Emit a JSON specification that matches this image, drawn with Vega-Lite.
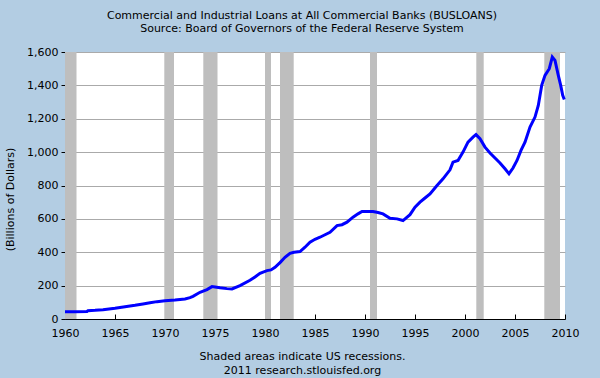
{
  "$schema": "https://vega.github.io/schema/vega-lite/v6.json",
  "width": 500,
  "height": 267,
  "autosize": {"type": "none"},
  "padding": {"left": 65, "top": 52, "right": 35, "bottom": 59},
  "background": "#b3cde3",
  "title": {
    "text": ["Commercial and Industrial Loans at All Commercial Banks (BUSLOANS)", "Source: Board of Governors of the Federal Reserve System"],
    "anchor": "middle",
    "frame": "group",
    "dx": -13,
    "offset": 12,
    "font": "DejaVu Sans",
    "fontSize": 11,
    "fontWeight": "normal",
    "color": "#000000",
    "lineHeight": 13
  },
  "config": {
    "view": {"fill": "#ffffff", "stroke": null},
    "axis": {"labelFont": "DejaVu Sans", "titleFont": "DejaVu Sans", "labelFontSize": 11, "titleFontSize": 11, "labelColor": "#000000", "titleColor": "#000000", "titleFontWeight": "normal", "domainColor": "#000000", "domainWidth": 1, "tickColor": "#000000", "labelFlush": false}
  },
  "datasets": {
    "loans": [
      {"year": 1960.0, "value": 44}, {"year": 1961.0, "value": 44}, {"year": 1962.2, "value": 45}, {"year": 1962.3, "value": 50},
      {"year": 1963.0, "value": 52}, {"year": 1963.8, "value": 56}, {"year": 1965.0, "value": 64}, {"year": 1966.0, "value": 74},
      {"year": 1966.5, "value": 78}, {"year": 1967.0, "value": 82}, {"year": 1967.8, "value": 90}, {"year": 1968.5, "value": 97},
      {"year": 1969.2, "value": 104}, {"year": 1970.0, "value": 110}, {"year": 1971.0, "value": 114}, {"year": 1972.0, "value": 120},
      {"year": 1972.5, "value": 128}, {"year": 1972.8, "value": 136}, {"year": 1973.5, "value": 160}, {"year": 1974.2, "value": 176},
      {"year": 1974.7, "value": 194}, {"year": 1975.0, "value": 192}, {"year": 1975.5, "value": 187}, {"year": 1976.2, "value": 182},
      {"year": 1976.7, "value": 180}, {"year": 1977.5, "value": 200}, {"year": 1978.5, "value": 232}, {"year": 1979.0, "value": 252},
      {"year": 1979.5, "value": 274}, {"year": 1980.2, "value": 290}, {"year": 1980.6, "value": 294}, {"year": 1981.0, "value": 310},
      {"year": 1981.5, "value": 338}, {"year": 1982.0, "value": 370}, {"year": 1982.5, "value": 394}, {"year": 1982.9, "value": 400},
      {"year": 1983.5, "value": 404}, {"year": 1984.0, "value": 430}, {"year": 1984.5, "value": 460}, {"year": 1985.0, "value": 478},
      {"year": 1985.5, "value": 490}, {"year": 1986.0, "value": 505}, {"year": 1986.5, "value": 520}, {"year": 1987.2, "value": 560},
      {"year": 1987.7, "value": 565}, {"year": 1988.2, "value": 580}, {"year": 1988.8, "value": 610}, {"year": 1989.3, "value": 630},
      {"year": 1989.7, "value": 644}, {"year": 1990.3, "value": 644}, {"year": 1990.8, "value": 644}, {"year": 1991.3, "value": 638},
      {"year": 1991.8, "value": 630}, {"year": 1992.5, "value": 604}, {"year": 1993.2, "value": 600}, {"year": 1993.8, "value": 590},
      {"year": 1994.5, "value": 625}, {"year": 1995.0, "value": 670}, {"year": 1995.5, "value": 700}, {"year": 1996.0, "value": 725},
      {"year": 1996.5, "value": 750}, {"year": 1997.2, "value": 800}, {"year": 1997.8, "value": 840}, {"year": 1998.5, "value": 894},
      {"year": 1998.8, "value": 940}, {"year": 1999.3, "value": 950}, {"year": 1999.8, "value": 1000}, {"year": 2000.3, "value": 1060},
      {"year": 2000.8, "value": 1090}, {"year": 2001.1, "value": 1105}, {"year": 2001.5, "value": 1080}, {"year": 2002.0, "value": 1030},
      {"year": 2002.5, "value": 995}, {"year": 2003.0, "value": 965}, {"year": 2003.5, "value": 935}, {"year": 2004.0, "value": 900},
      {"year": 2004.4, "value": 870}, {"year": 2004.8, "value": 905}, {"year": 2005.2, "value": 950}, {"year": 2005.6, "value": 1010},
      {"year": 2006.0, "value": 1060}, {"year": 2006.5, "value": 1150}, {"year": 2007.0, "value": 1210}, {"year": 2007.33, "value": 1280},
      {"year": 2007.67, "value": 1400}, {"year": 2008.0, "value": 1460}, {"year": 2008.43, "value": 1500}, {"year": 2008.73, "value": 1570},
      {"year": 2009.0, "value": 1550}, {"year": 2009.33, "value": 1460}, {"year": 2009.57, "value": 1400}, {"year": 2009.77, "value": 1340},
      {"year": 2009.93, "value": 1315}
    ],
    "recessions": [
      {"start": 1960.0, "end": 1961.15}, {"start": 1969.93, "end": 1970.9}, {"start": 1973.83, "end": 1975.25},
      {"start": 1980.0, "end": 1980.6}, {"start": 1981.5, "end": 1982.87}, {"start": 1990.5, "end": 1991.2},
      {"start": 2001.13, "end": 2001.87}, {"start": 2007.93, "end": 2009.5}
    ]
  },
  "layer": [
    {
      "data": {"name": "recessions"},
      "mark": {"type": "rect", "color": "#bebebe"},
      "encoding": {
        "x": {"field": "start", "type": "quantitative", "scale": {"domain": [1960, 2010], "nice": false}},
        "x2": {"field": "end"}
      }
    },
    {
      "data": {"name": "loans"},
      "mark": {"type": "line", "color": "#0000ff", "strokeWidth": 3},
      "encoding": {
        "x": {
          "field": "year", "type": "quantitative",
          "scale": {"domain": [1960, 2010], "nice": false},
          "axis": {
            "values": [1960, 1965, 1970, 1975, 1980, 1985, 1990, 1995, 2000, 2005, 2010],
            "format": "d", "grid": false, "tickSize": -5, "labelPadding": 13,
            "title": ["Shaded areas indicate US recessions.", "2011 research.stlouisfed.org"],
            "titleX": 237, "titleY": 31, "titleLineHeight": 14, "titleBaseline": "top"
          }
        },
        "y": {
          "field": "value", "type": "quantitative",
          "scale": {"domain": [0, 1600], "nice": false},
          "axis": {
            "values": [0, 200, 400, 600, 800, 1000, 1200, 1400, 1600],
            "format": ",d", "grid": true, "gridColor": "#aaaaaa", "tickSize": 4, "labelPadding": 3,
            "title": "(Billions of Dollars)", "titleX": -50, "titleY": 147
          }
        }
      }
    }
  ]
}
